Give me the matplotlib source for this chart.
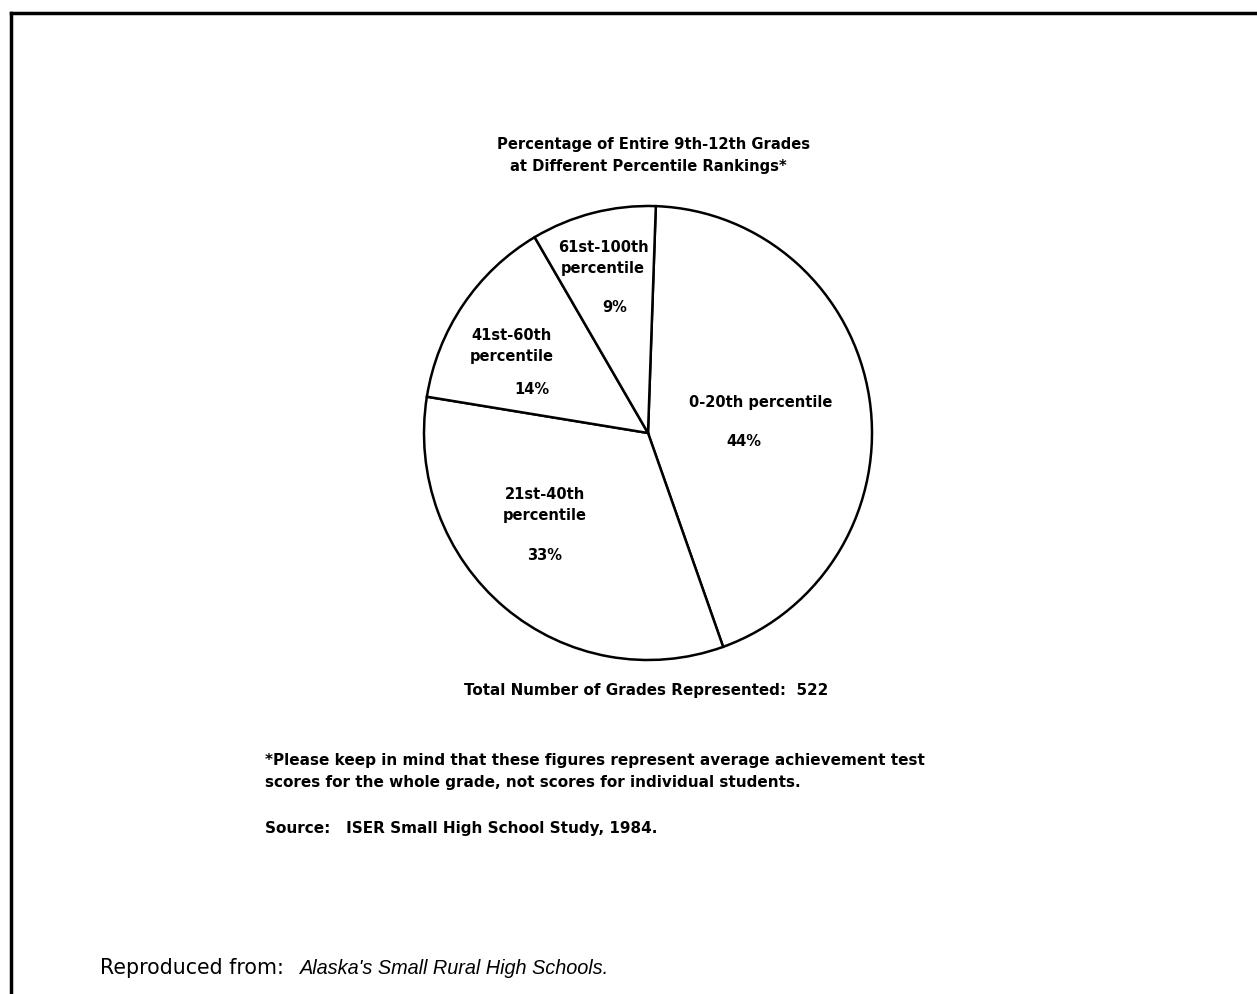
import matplotlib.pyplot as plt

# data
labels = ['0-20th percentile', '21st-40th\npercentile', '41st-60th\npercentile', '61st-100th\npercentile']
shares = [44, 33, 14, 9]
pct_text = ['44%', '33%', '14%', '9%']
total_grades = 522

W, H = 1257, 994
fig = plt.figure(figsize=(W / 100, H / 100), dpi=100)
fig.patch.set_facecolor('white')

# background axes in pixel coordinates for the page texts and frame
bg = fig.add_axes([0, 0, 1, 1])
bg.set_xlim(0, W)
bg.set_ylim(H, 0)
bg.axis('off')

# frame (top and left edges only, as in the scan)
bg.plot([11, W], [13, 13], color='black', lw=2.5)
bg.plot([11, 11], [13, H], color='black', lw=2.5)

font = 'DejaVu Sans'
bg.text(654, 145, 'Percentage of Entire 9th-12th Grades', ha='center', va='center',
        fontsize=10.6, fontweight='bold', family=font)
bg.text(648, 166, 'at Different Percentile Rankings*', ha='center', va='center',
        fontsize=10.6, fontweight='bold', family=font)

bg.text(646, 690, f'Total Number of Grades Represented:  {total_grades}', ha='center', va='center',
        fontsize=10.9, fontweight='bold', family=font)
bg.text(265, 761, '*Please keep in mind that these figures represent average achievement test',
        ha='left', va='center', fontsize=11, fontweight='bold', family=font)
bg.text(265, 782, 'scores for the whole grade, not scores for individual students.',
        ha='left', va='center', fontsize=11, fontweight='bold', family=font)
bg.text(265, 828, 'Source:   ISER Small High School Study, 1984.',
        ha='left', va='center', fontsize=11, fontweight='bold', family=font)

bg.text(100, 968, 'Reproduced from:', ha='left', va='center', fontsize=14.8, family=font)
bg.text(300, 968, "Alaska's Small Rural High Schools.", ha='left', va='center', fontsize=14.3,
        style='italic', family='Liberation Sans')

# pie axes: centre (648, 433) px, radii ~224 x 227 px (scan is slightly stretched)
cx, cy, rx, ry = 648, 433, 224, 227
pad = 1.02
ax = fig.add_axes([(cx - rx * pad) / W, (H - cy - ry * pad) / H, 2 * rx * pad / W, 2 * ry * pad / H])
ax.pie(shares, startangle=88, counterclock=False, radius=1,
       colors=['white'] * len(shares),
       wedgeprops=dict(edgecolor='black', linewidth=1.8))
ax.set_xlim(-pad, pad)
ax.set_ylim(-pad, pad)
ax.set_aspect('auto')
ax.axis('off')

# label positions in pixels (label centre, percent centre)
label_px = [(761, 402), (545, 505), (512, 346), (603, 258)]
pct_px = [(744, 442), (545, 555), (532, 390), (615, 307)]
for lab, pct, (lx, ly), (px, py) in zip(labels, pct_text, label_px, pct_px):
    ax.text((lx - cx) / rx, (cy - ly) / ry, lab, ha='center', va='center',
            fontsize=10.5, fontweight='bold', family=font, linespacing=1.55)
    ax.text((px - cx) / rx, (cy - py) / ry, pct, ha='center', va='center',
            fontsize=10.5, fontweight='bold', family=font)

fig.savefig('out.png', dpi=100)
